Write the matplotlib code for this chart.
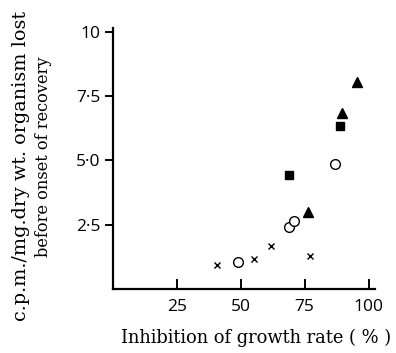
import matplotlib.pyplot as plt

# donnees
croix_x = [40.6, 55.0, 61.7, 77.0]
croix_y = [0.93, 1.17, 1.67, 1.28]
cercle_x = [48.9, 68.8, 70.7, 86.7]
cercle_y = [1.05, 2.41, 2.65, 4.86]
carre_x = [68.8, 88.7]
carre_y = [4.44, 6.34]
triangle_x = [76.2, 89.5, 95.3]
triangle_y = [3.0, 6.85, 8.05]

xticks = [25, 50, 75, 100]
yticks = [2.5, 5.0, 7.5, 10]
ylabels = ["2·5", "5·0", "7·5", "10"]

fig = plt.figure(figsize=(3.96, 3.53), dpi=100)
ax = fig.add_axes([0.285, 0.181, 0.662, 0.74])

ax.plot(croix_x, croix_y, 'x', color='black', ms=4.5, mew=1.0)
ax.plot(cercle_x, cercle_y, 'o', mfc='white', mec='black', ms=7, mew=1.0)
ax.plot(carre_x, carre_y, 's', color='black', ms=6)
ax.plot(triangle_x, triangle_y, '^', color='black', ms=6.5)

ax.set_xlim(0, 102.5)
ax.set_ylim(0, 10.15)
ax.spines['top'].set_visible(False)
ax.spines['right'].set_visible(False)
ax.spines['left'].set_linewidth(1.6)
ax.spines['bottom'].set_linewidth(1.6)

ax.set_xticks(xticks)
ax.set_xticklabels([str(v) for v in xticks], fontfamily='Open Sans', fontsize=12.5)
ax.set_yticks(yticks)
ax.set_yticklabels(ylabels, fontfamily='Open Sans', fontsize=12.5)
ax.tick_params(axis='x', direction='in', length=7, width=1.4, pad=7)
ax.tick_params(axis='y', direction='out', length=6, width=1.4, pad=3)

fig.text(0.646, 0.042, "Inhibition of growth rate ( % )", ha='center', va='center',
         fontfamily='DejaVu Serif', fontsize=12.9)
fig.text(0.053, 0.531, "c.p.m./mg.dry wt. organism lost", rotation=90,
         ha='center', va='center', fontfamily='DejaVu Serif', fontsize=13.8)
fig.text(0.109, 0.557, "before onset of recovery", rotation=90,
         ha='center', va='center', fontfamily='DejaVu Serif', fontsize=11.7)

fig.savefig("out.png", dpi=100)
